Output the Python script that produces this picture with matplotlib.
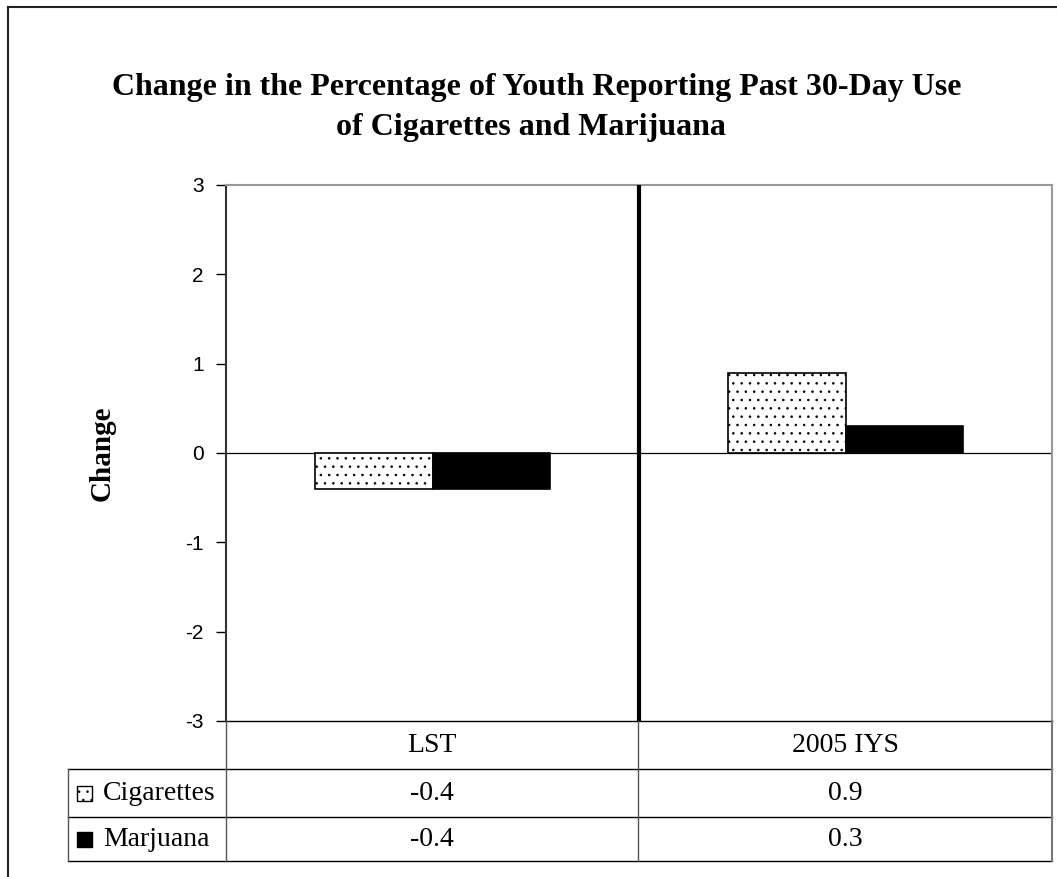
import matplotlib
matplotlib.use("Agg")
import matplotlib.pyplot as plt
import numpy as np
from matplotlib.patches import Rectangle
from matplotlib.lines import Line2D

# Data
categories = ["LST", "2005 IYS"]
series_names = ["Cigarettes", "Marjuana"]
cigarettes = [-0.4, 0.9]
marijuana = [-0.4, 0.3]
yticks = [-3, -2, -1, 0, 1, 2, 3]
title_lines = ["Change in the Percentage of Youth Reporting Past 30-Day Use",
               "of Cigarettes and Marijuana"]

plt.rcParams["hatch.linewidth"] = 0.6
plt.rcParams["hatch.color"] = "#222222"

W, H = 1057, 877
fig = plt.figure(figsize=(W / 100, H / 100), dpi=100)
fig.patch.set_facecolor("white")


def fx(x):
    return x / W


def fy(y):
    return 1 - y / H


def hline(x0, x1, y, color="black", lw=1.0):
    fig.add_artist(Line2D([fx(x0), fx(x1)], [fy(y), fy(y)],
                          transform=fig.transFigure, color=color, lw=lw))


def vline(x, y0, y1, color="black", lw=1.0):
    fig.add_artist(Line2D([fx(x), fx(x)], [fy(y0), fy(y1)],
                          transform=fig.transFigure, color=color, lw=lw))


# Outer frame (left and top edges)
vline(8, 7, H, color="#222222", lw=1.5)
hline(8, W, 7, color="#222222", lw=1.5)

SERIF = "Liberation Serif"
SANS = "Liberation Sans"

# Plot area
L, R, T, B = 226, 1052, 185, 721
ax = fig.add_axes([fx(L), fy(B), fx(R) - fx(L), fy(T) - fy(B)])

x = np.arange(len(categories))
w = 0.284
ax.bar(x - w / 2, cigarettes, w, color="white", edgecolor="black",
       hatch="..", lw=1.2, zorder=3)
ax.bar(x + w / 2, marijuana, w, color="black", edgecolor="black",
       lw=1.2, zorder=3)

ax.axhline(0, color="black", lw=0.9, zorder=2)
ax.axvline(0.5, color="black", lw=3.0, zorder=4)

ax.set_xlim(-0.5, 1.5)
ax.set_ylim(-3, 3)
ax.set_yticks(yticks)
ax.set_yticklabels([str(t) for t in yticks], fontfamily=SANS, fontsize=15)
ax.set_xticks([])
ax.tick_params(axis="y", direction="out", length=7, width=1.0, pad=9,
               colors="black")

ax.spines["left"].set_color("#333333")
ax.spines["left"].set_linewidth(1.5)
for s in ("top", "right"):
    ax.spines[s].set_color("#999999")
    ax.spines[s].set_linewidth(1.5)
ax.spines["bottom"].set_color("black")
ax.spines["bottom"].set_linewidth(1.0)

# Title and axis label
fig.text(fx(537), fy(87), title_lines[0], ha="center", va="center",
         fontfamily=SERIF, fontweight="bold", fontsize=23)
fig.text(fx(531), fy(127), title_lines[1], ha="center", va="center",
         fontfamily=SERIF, fontweight="bold", fontsize=23)
fig.text(fx(102), fy(453), "Change", rotation=90, ha="center", va="center",
         fontfamily=SERIF, fontweight="bold", fontsize=21)

# Data table below the plot
col_edges = [68, L, 638, R]
row_edges = [B, 769, 817, 861]

hline(68, R, row_edges[1])
hline(68, R, row_edges[2])
hline(68, R, row_edges[3])
vline(68, row_edges[1], row_edges[3], color="#555555", lw=1.0)
vline(L, B, row_edges[3], color="#555555", lw=1.0)
vline(638, B, row_edges[3], color="#555555", lw=1.0)
vline(R, B, row_edges[3], color="#777777", lw=1.5)

cell_font = dict(fontfamily=SERIF, fontsize=20, ha="center", va="center")
for i, cat in enumerate(categories):
    cx = (col_edges[i + 1] + col_edges[i + 2]) / 2
    fig.text(fx(cx), fy((row_edges[0] + row_edges[1]) / 2), cat, **cell_font)
    for j, vals in enumerate((cigarettes, marijuana)):
        cy = (row_edges[j + 1] + row_edges[j + 2]) / 2
        fig.text(fx(cx), fy(cy), f"{vals[i]:.1f}", **cell_font)

# Row labels with legend keys
key_styles = [dict(facecolor="white", hatch=".."), dict(facecolor="black")]
for j, name in enumerate(series_names):
    cy = (row_edges[j + 1] + row_edges[j + 2]) / 2
    k = 15
    fig.add_artist(Rectangle((fx(77), fy(cy + k / 2)), fx(k), k / H,
                             transform=fig.transFigure, edgecolor="black",
                             lw=1.0, **key_styles[j]))
    fig.text(fx(103), fy(cy), name, fontfamily=SERIF, fontsize=20,
             ha="left", va="center")

fig.savefig("out.png", dpi=100)
